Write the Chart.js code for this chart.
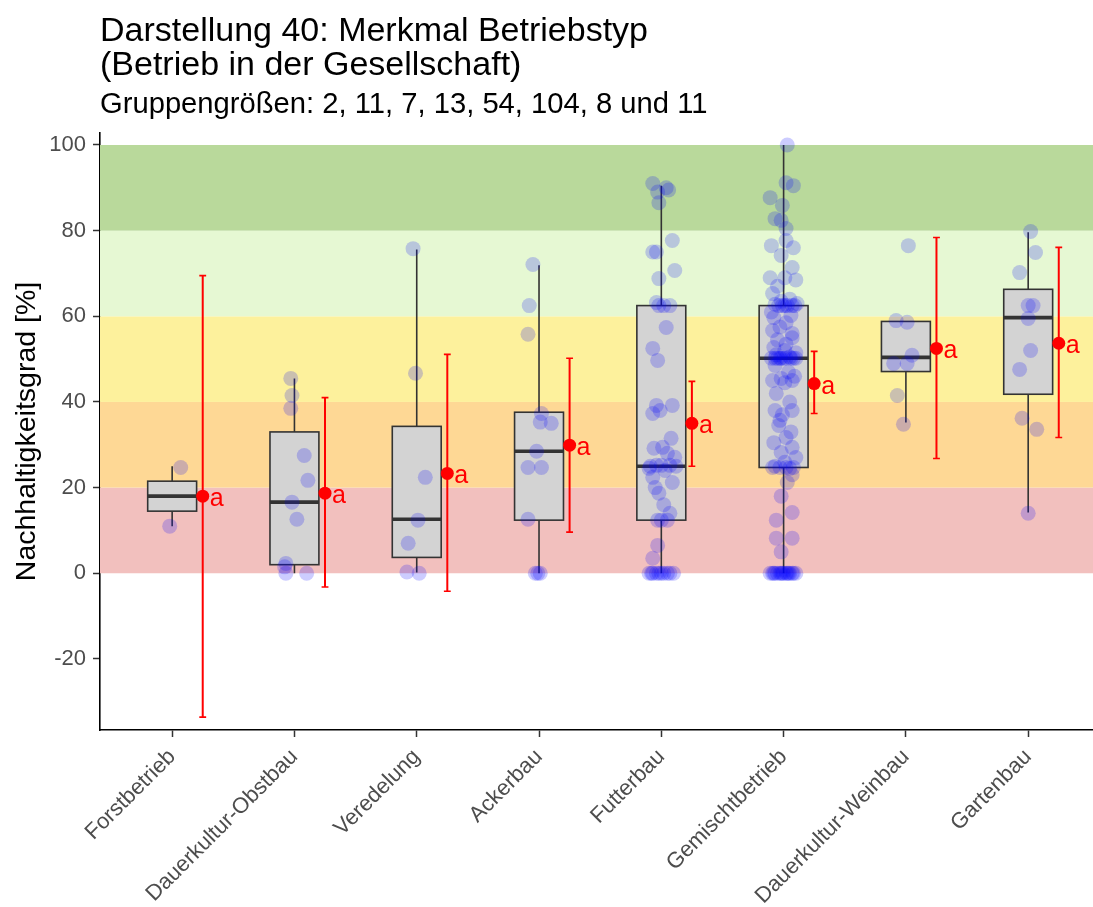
<!DOCTYPE html>
<html>
<head>
<meta charset="utf-8">
<script src="https://cdn.jsdelivr.net/npm/chart.js@4.4.1/dist/chart.umd.min.js"></script>
<style>
  html, body { margin: 0; padding: 0; background: #ffffff; overflow: hidden; }
  #wrap { width: 1093px; height: 907px; }
</style>
</head>
<body>
<div id="wrap"><canvas id="c" width="1093" height="907"></canvas></div>
<script>
// ---------------- DATA ----------------
const titleLines = ["Darstellung 40: Merkmal Betriebstyp", "(Betrieb in der Gesellschaft)"];
const subtitle = "Gruppengrößen: 2, 11, 7, 13, 54, 104, 8 und 11";
const yAxisTitle = "Nachhaltigkeitsgrad [%]";

const categories = ["Forstbetrieb", "Dauerkultur-Obstbau", "Veredelung", "Ackerbau",
                    "Futterbau", "Gemischtbetrieb", "Dauerkultur-Weinbau", "Gartenbau"];

const yTicks = [-20, 0, 20, 40, 60, 80, 100];

// Rating bands (lower, upper)
const bandLower = [0, 20, 40, 60, 80];
const bandUpper = [20, 40, 60, 80, 100];

// Box plot statistics
const q1          = [14.5, 2.0, 3.7, 12.4, 12.4, 24.7, 47.1, 41.8];
const medians     = [18.0, 16.6, 12.6, 28.5, 25.0, 50.2, 50.4, 59.7];
const q3          = [21.5, 33.0, 34.3, 37.6, 62.5, 62.5, 58.8, 66.3];
const whiskerLow  = [11.0, 0.0, 0.2, 0.0, 0.0, 0.0, 35.2, 14.2];
const whiskerHigh = [25.0, 45.5, 75.6, 71.9, 90.5, 100.0, 58.8, 79.6];

// Mean and confidence interval
const means   = [18.0, 18.7, 23.3, 29.9, 35.0, 44.3, 52.5, 53.7];
const ciLow   = [-33.6, -3.2, -4.2, 9.6, 25.0, 37.3, 26.8, 31.7];
const ciHigh  = [69.5, 41.0, 51.1, 50.2, 44.8, 51.8, 78.4, 76.1];
const letters = ["a", "a", "a", "a", "a", "a", "a", "a"];

// Individual values (jittered points) and their horizontal jitter (category units)
const valForst = [24.7, 11.0];
const jitForst = [0.07, -0.02];

const valObst = [45.5, 41.5, 38.5, 27.5, 21.7, 16.6, 12.6, 2.3, 1.5, 0, 0];
const jitObst = [-0.03, -0.02, -0.03, 0.08, 0.11, -0.02, 0.02, -0.07, -0.08, -0.07, 0.10];

const valVered = [75.8, 46.7, 22.4, 12.4, 7.0, 0.3, 0];
const jitVered = [-0.03, -0.01, 0.07, 0.01, -0.07, -0.08, 0.02];

const valAcker = [72.1, 62.5, 55.8, 37.3, 35.3, 35.0, 28.5, 24.7, 24.7, 12.6, 0, 0, 0];
const jitAcker = [-0.05, -0.08, -0.09, 0.02, 0.01, 0.10, -0.02, -0.09, 0.02, -0.09, -0.03, 0.01, -0.01];

const valFutter = [91, 90, 89.5, 89, 86.5, 77.7, 75, 75, 70.7, 68.8,
                   63.2, 62.5, 62.5, 62.5, 57.4, 52.5, 49.7, 39.2, 39.2, 38,
                   37.3, 31.5, 29.4, 29.2, 28, 27.1, 25.2, 25.2, 25.2, 25,
                   25, 24.5, 24, 22.4, 21.2, 20, 18.7, 16, 14, 12.4,
                   12.4, 12.4, 6.5, 3.5, 0, 0, 0, 0, 0, 0,
                   0, 0, 0, 0];
const jitFutter = [-0.07, 0.04, 0.06, -0.03, -0.02, 0.09, -0.04, -0.07, 0.11, -0.02,
                   -0.04, 0.07, -0.02, 0.02, 0.04, -0.07, -0.03, -0.04, 0.09, -0.01,
                   -0.07, 0.08, 0.01, -0.06, 0.05, 0.11, -0.04, 0.07, 0.00, 0.12,
                   -0.09, -0.10, 0.03, -0.07, 0.09, -0.05, -0.02, 0.02, 0.07, -0.03,
                   0.05, 0.00, -0.03, -0.07, -0.10, -0.07, -0.04, -0.02, 0.00, 0.02,
                   0.05, 0.07, 0.10, -0.08];

const valGemischt = [100, 91.2, 90.5, 87.7, 85.9, 82.8, 82.4, 80.5, 77.7, 76.5,
                     76, 74.2, 71.4, 69, 69, 68.5, 67, 65.3, 64, 63.5,
                     63, 62.8, 62.5, 62.5, 62.5, 62.5, 62.5, 62.5, 61, 60.2,
                     59.7, 58.5, 57.5, 56.7, 56, 55, 54.5, 53.5, 52.7, 52,
                     51.5, 51, 50.5, 50.2, 50.2, 50.2, 50.2, 50.2, 50.2, 50.2,
                     50.2, 50.2, 50.2, 48.5, 47, 46, 45.5, 45, 45, 44.5,
                     42, 40, 38, 38, 37, 35.7, 34.5, 33, 31.7, 30.5,
                     29.4, 28.2, 27, 25.9, 25, 24.7, 24.7, 24.7, 24.7, 24.5,
                     23, 21.2, 18, 14.2, 12.4, 8.2, 8.2, 5, 0, 0,
                     0, 0, 0, 0, 0, 0, 0, 0, 0, 0,
                     0, 0, 0, 0];
const jitGemischt = [0.03, 0.02, 0.08, -0.11, -0.01, -0.07, -0.02, 0.02, 0.02, -0.10,
                     0.08, -0.02, 0.07, -0.11, 0.01, 0.10, -0.05, -0.09, 0.05, -0.02,
                     0.11, -0.07, 0.01, 0.07, -0.04, 0.03, -0.01, 0.09, -0.10, 0.06,
                     -0.08, 0.02, -0.03, -0.09, 0.07, 0.07, -0.05, 0.02, -0.08, 0.01,
                     0.10, -0.06, 0.05, -0.10, -0.03, 0.02, 0.08, -0.07, 0.00, 0.06,
                     -0.02, 0.10, -0.05, -0.07, 0.04, 0.09, -0.02, -0.09, 0.07, 0.01,
                     -0.06, 0.05, -0.07, 0.07, -0.01, -0.03, -0.04, 0.06, 0.02, -0.08,
                     0.07, -0.02, 0.10, 0.01, -0.07, 0.02, -0.09, 0.08, -0.03, 0.05,
                     0.07, 0.03, -0.02, 0.07, -0.06, -0.06, 0.07, -0.02, -0.11, -0.08,
                     -0.07, -0.05, -0.03, -0.02, 0.00, 0.02, 0.03, 0.05, 0.07, 0.08,
                     0.10, -0.09, 0.04, -0.01];

const valWein = [76.5, 59, 58.6, 50.9, 49, 49, 41.5, 34.8];
const jitWein = [0.02, -0.08, 0.01, 0.05, -0.10, 0.01, -0.07, -0.02];

const valGarten = [79.8, 74.9, 70.2, 62.5, 62.5, 59.5, 52, 47.6, 36.2, 33.6, 14];
const jitGarten = [0.02, 0.06, -0.07, 0.00, 0.04, 0.00, 0.02, -0.07, -0.05, 0.07, 0.00];

const groupValues = [valForst, valObst, valVered, valAcker, valFutter, valGemischt, valWein, valGarten];
const groupJitter = [jitForst, jitObst, jitVered, jitAcker, jitFutter, jitGemischt, jitWein, jitGarten];

// ---------------- STYLE ----------------
const FONT = "'Liberation Sans', Arial, sans-serif";
const bandColors = ["#f2c0be", "#fed895", "#fdf19c", "#e6f8d3", "#b9d99b"];
const BOX_HALF = 0.2;
const MEAN_OFFSET = 0.25;
const CAP_HALF = 0.028;

const pointData = [];
groupValues.forEach((vals, i) => {
  vals.forEach((v, k) => pointData.push({ x: i + groupJitter[i][k], y: v }));
});
const meanData = means.map((m, i) => ({ x: i + MEAN_OFFSET, y: m }));

const decorPlugin = {
  id: 'decor',
  beforeDatasetsDraw(chart) {
    const { ctx, chartArea: a, scales: { x, y } } = chart;
    ctx.save();
    // bands
    bandLower.forEach((lo, b) => {
      const yt = y.getPixelForValue(bandUpper[b]);
      const yb = y.getPixelForValue(lo);
      ctx.fillStyle = bandColors[b];
      ctx.fillRect(a.left, yt, a.right - a.left, yb - yt);
    });
    // boxplots
    categories.forEach((c, i) => {
      const xc = x.getPixelForValue(i);
      const xl = x.getPixelForValue(i - BOX_HALF);
      const xr = x.getPixelForValue(i + BOX_HALF);
      const yq1 = y.getPixelForValue(q1[i]);
      const yq3 = y.getPixelForValue(q3[i]);
      const ym = y.getPixelForValue(medians[i]);
      ctx.strokeStyle = '#333333';
      ctx.lineWidth = 1.6;
      ctx.beginPath();
      ctx.moveTo(xc, y.getPixelForValue(whiskerLow[i]));
      ctx.lineTo(xc, yq1);
      ctx.moveTo(xc, yq3);
      ctx.lineTo(xc, y.getPixelForValue(whiskerHigh[i]));
      ctx.stroke();
      ctx.fillStyle = '#d3d3d3';
      ctx.fillRect(xl, yq3, xr - xl, yq1 - yq3);
      ctx.strokeRect(xl, yq3, xr - xl, yq1 - yq3);
      ctx.lineWidth = 3.6;
      ctx.beginPath();
      ctx.moveTo(xl, ym);
      ctx.lineTo(xr, ym);
      ctx.stroke();
    });
    // error bars
    ctx.strokeStyle = '#ff0000';
    categories.forEach((c, i) => {
      const xm = x.getPixelForValue(i + MEAN_OFFSET);
      const x0 = x.getPixelForValue(i + MEAN_OFFSET - CAP_HALF);
      const x1 = x.getPixelForValue(i + MEAN_OFFSET + CAP_HALF);
      const yl = y.getPixelForValue(ciLow[i]);
      const yh = y.getPixelForValue(ciHigh[i]);
      ctx.lineWidth = 2;
      ctx.beginPath();
      ctx.moveTo(xm, yl); ctx.lineTo(xm, yh);
      ctx.stroke();
      ctx.lineWidth = 1.6;
      ctx.beginPath();
      ctx.moveTo(x0, yl); ctx.lineTo(x1, yl);
      ctx.moveTo(x0, yh); ctx.lineTo(x1, yh);
      ctx.stroke();
    });
    ctx.restore();
  },
  afterDatasetsDraw(chart) {
    const { ctx, scales: { x, y } } = chart;
    ctx.save();
    ctx.fillStyle = '#ff0000';
    ctx.font = "25px " + FONT;
    ctx.textAlign = 'left';
    ctx.textBaseline = 'alphabetic';
    categories.forEach((c, i) => {
      const xm = x.getPixelForValue(i + MEAN_OFFSET);
      const ym = y.getPixelForValue(means[i]);
      ctx.fillText(letters[i], xm + 7, ym + 10);
    });
    ctx.restore();
  },
  afterDraw(chart) {
    const { ctx, chartArea: a } = chart;
    ctx.save();
    ctx.fillStyle = '#000000';
    ctx.textAlign = 'left';
    ctx.textBaseline = 'alphabetic';
    ctx.font = "34px " + FONT;
    ctx.fillText(titleLines[0], a.left, 41);
    ctx.fillText(titleLines[1], a.left, 75);
    ctx.font = "29.2px " + FONT;
    ctx.fillText(subtitle, a.left, 113);
    ctx.restore();
  }
};

new Chart(document.getElementById('c'), {
  type: 'scatter',
  data: {
    datasets: [
      { label: 'Mittelwert', data: meanData, pointRadius: 6.5, pointHoverRadius: 6.5,
        backgroundColor: '#ff0000', borderWidth: 0, order: 0 },
      { label: 'Werte', data: pointData, pointRadius: 7.5, pointHoverRadius: 7.5,
        backgroundColor: 'rgba(0,0,255,0.2)', borderWidth: 0, order: 1 }
    ]
  },
  options: {
    responsive: false,
    animation: false,
    devicePixelRatio: 1,
    layout: { autoPadding: false, padding: { top: 133, left: 0, right: 0, bottom: 0 } },
    plugins: { legend: { display: false }, tooltip: { enabled: false } },
    scales: {
      x: {
        type: 'linear',
        min: -0.59,
        max: 7.53,
        afterBuildTicks: (s) => { s.ticks = categories.map((c, i) => ({ value: i })); },
        afterFit: (s) => { s.height = 177; s.paddingRight = 0; s.paddingLeft = 0; },
        ticks: {
          callback: (v) => categories[v],
          autoSkip: false, maxRotation: 45, minRotation: 45,
          color: '#4d4d4d', font: { family: FONT, size: 22 }, padding: 7
        },
        grid: { drawOnChartArea: false, drawTicks: true, tickLength: 7, color: '#333333', tickWidth: 1.5 },
        border: { display: true, color: '#000000', width: 1.6 }
      },
      y: {
        type: 'linear',
        min: -36.6,
        max: 102.8,
        afterBuildTicks: (s) => { s.ticks = yTicks.map(v => ({ value: v })); },
        afterFit: (s) => { s.width = 100; s.paddingTop = 0; s.paddingBottom = 0; },
        ticks: { color: '#4d4d4d', font: { family: FONT, size: 22 }, padding: 7 },
        grid: { drawOnChartArea: false, drawTicks: true, tickLength: 7, color: '#333333', tickWidth: 1.5 },
        border: { display: true, color: '#000000', width: 1.6 },
        title: { display: true, text: yAxisTitle, color: '#000000', font: { family: FONT, size: 28.5 }, padding: { top: 10, bottom: 0 } }
      }
    }
  },
  plugins: [decorPlugin]
});
</script>
</body>
</html>
